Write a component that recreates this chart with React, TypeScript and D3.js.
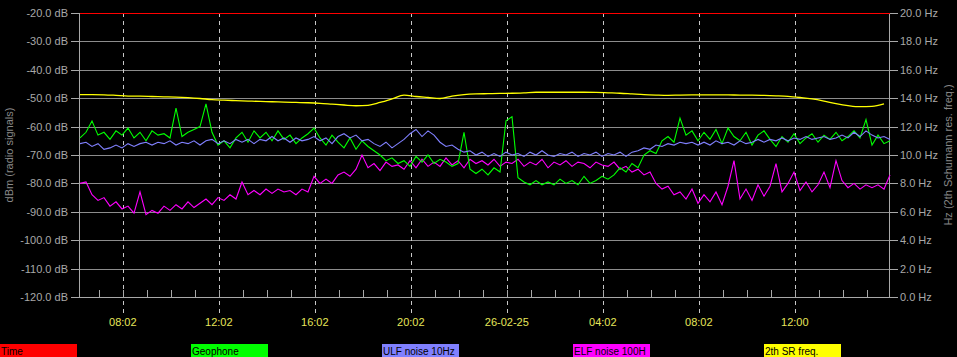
import React from "react";
import * as d3 from "d3";

const W = 957;
const H = 357;

// time axis (hours since 25-02-25 00:00)
const TIME_START = 6.25;
const TIME_END = 40.0;
const NOISE_STEP = 0.25;
const SR_STEP = 0.5;

const xTickHours = [8.033, 12.033, 16.033, 20.033, 24.033, 28.033, 32.033, 36.033];
const xTickLabels = ["08:02", "12:02", "16:02", "20:02", "26-02-25", "04:02", "08:02", "12:00"];
const minorTickHours = [7.033, 8.033, 9.033, 10.033, 11.033, 12.033, 13.033, 14.033, 15.033, 16.033, 17.033, 18.033, 19.033, 20.033, 21.033, 22.033, 23.033, 24.033, 25.033, 26.033, 27.033, 28.033, 29.033, 30.033, 31.033, 32.033, 33.033, 34.033, 35.033, 36.033, 37.033, 38.033, 39.033];

const dbTicks = [-20, -30, -40, -50, -60, -70, -80, -90, -100, -110, -120];
const hzTicks = [20, 18, 16, 14, 12, 10, 8, 6, 4, 2, 0];

const legendNames = ["Time", "Geophone", "ULF noise 10Hz", "ELF noise 100H", "2th SR freq."];
const legendColors = ["#ff0000", "#00ff00", "#8080ff", "#ff00ff", "#ffff00"];

// ULF noise 10Hz (dBm), every 15 min
const ulf = [
  -66, -65.5, -67, -66, -68, -67.5, -66.5, -67.5, -66, -67,
  -66, -65.5, -66.5, -65.5, -66, -65, -66.5, -65.5, -66, -65,
  -66.5, -65, -64.5, -66, -65, -66, -64.5, -65.5, -64.5, -66,
  -64.5, -65, -63.5, -65, -64, -65.5, -64, -65, -64.5, -63.5,
  -65, -64, -66, -63.5, -62.5, -64, -63, -65, -64.5, -66,
  -67, -65.5, -67.5, -66, -64.5, -62.5, -61, -63.5, -61.5, -63,
  -65.5, -67, -66.5, -68, -69, -68.5, -70, -69, -70.5, -69.5,
  -70.5, -69, -70, -69.5, -70.5, -69, -70, -68.5, -70, -70.5,
  -69.5, -70, -69, -70.5, -69.5, -70, -69, -70.5, -69.5, -70,
  -69, -70.5, -69, -68.5, -67.5, -68, -66.5, -67, -66, -66.5,
  -65.5, -66, -65.5, -66.5, -65.5, -66.5, -65, -66, -65.5, -66.5,
  -65, -66, -65.5, -64.5, -65.5, -64.5, -65, -64, -65, -64,
  -64.5, -63.5, -64.5, -64, -63.5, -64.5, -64, -63, -64, -62,
  -63.5, -61.5, -63, -64, -63.5, -64.5,
];

// Geophone (dBm), every 15 min
const geophone = [
  -64, -62, -58, -63, -62, -64.5, -61.5, -63, -60.5, -64,
  -62, -65, -61.5, -63, -62.5, -64, -53.5, -63.5, -62, -61,
  -60, -52, -62, -66.5, -65, -67.5, -64, -62, -65.5, -61.5,
  -64, -62, -65, -61.5, -64.5, -63, -66, -64, -62.5, -60.5,
  -64, -66.5, -63, -65.5, -67.5, -64, -68, -65, -67, -68.5,
  -70, -72, -71, -73, -72, -74, -70.5, -72.5, -70, -73,
  -71.5, -72.5, -74, -73, -62, -75, -76.5, -75, -77, -74.5,
  -76, -58, -56.5, -78, -79.5, -80.5, -79, -80.5, -79.5, -80.5,
  -78.5, -80, -79, -80.5, -77.5, -80, -79, -77.5, -78.5, -77,
  -74.5, -76, -73, -74.5, -70, -68.5, -69.5, -65, -63.5, -65.5,
  -57, -63, -61.5, -65, -62, -64.5, -61, -66, -60.5, -63.5,
  -65, -62, -66.5, -63, -61.5, -64.5, -67, -63.5, -65.5, -62.5,
  -66, -64, -62.5, -65.5, -63, -64.5, -62, -65, -63.5, -61.5,
  -64, -57.5, -66.5, -63, -66, -65,
];

// ELF noise 100Hz (dBm), every 15 min
const elf = [
  -80, -79.5, -84, -86, -85, -88, -86.5, -89, -88, -90.5,
  -83, -91, -89.5, -90.5, -88, -89.5, -87.5, -89, -86.5, -88.5,
  -87, -85.5, -87.5, -85, -86, -84, -85.5, -79.5, -84, -82.5,
  -84, -82, -83.5, -82, -83, -82.5, -84, -82, -83, -77.5,
  -80, -78.5, -80, -77, -76, -77.5, -75, -70, -74.5, -73,
  -75.5, -72.5, -74, -73.5, -75, -72, -74.5, -71.5, -74, -72.5,
  -74, -71, -73.5, -72, -74.5, -71.5, -73, -72, -73.5, -71.5,
  -74, -72.5, -73, -71.5, -74, -72.5, -73.5, -71.5, -74.5, -72.5,
  -73.5, -72, -74, -72.5, -73, -74.5, -72.5, -73.5, -74, -72.5,
  -75, -74, -76, -75, -77, -76, -80, -82, -81, -84,
  -83, -85.5, -82, -87, -84, -86.5, -83, -87.5, -81, -72,
  -85.5, -82, -86, -80.5, -84.5, -81, -73, -83, -80, -76,
  -82.5, -79.5, -83, -80.5, -76, -81.5, -72, -79, -81.5, -80,
  -82, -80.5, -81.5, -80.5, -82, -77,
];

// 2nd Schumann resonance frequency (Hz), every 30 min
const srFreq = [
  14.25, 14.25, 14.24, 14.2, 14.15, 14.14, 14.12, 14.1, 14.08, 14.04,
  13.98, 13.9, 13.86, 13.83, 13.8, 13.77, 13.75, 13.72, 13.7, 13.68,
  13.64, 13.58, 13.52, 13.47, 13.5, 13.7, 13.95, 14.22, 14.12, 14.05,
  13.98, 14.15, 14.25, 14.3, 14.32, 14.34, 14.35, 14.38, 14.42, 14.42,
  14.42, 14.42, 14.42, 14.41, 14.38, 14.35, 14.3, 14.25, 14.22, 14.2,
  14.22, 14.23, 14.23, 14.23, 14.23, 14.22, 14.22, 14.2, 14.17, 14.13,
  14.05, 13.95, 13.8, 13.62, 13.48, 13.4, 13.42, 13.6,
];

const PL = 80, PR = 890, PT = 13, PB = 297;

export default function App() {
  const x = d3.scaleLinear().domain([TIME_START, TIME_END]).range([PL, PR]);
  const yDb = d3.scaleLinear().domain([-120, -20]).range([PB, PT]);
  const yHz = d3.scaleLinear().domain([0, 20]).range([PB, PT]);

  const dbLine = (arr: number[], step: number) =>
    d3.line<number>()
      .x((_, i) => x(TIME_START + i * step))
      .y((v) => yDb(v))(arr) || "";
  const hzLine = d3.line<number>()
    .x((_, i) => x(TIME_START + i * SR_STEP))
    .y((v) => yHz(v))
    .curve(d3.curveMonotoneX)(srFreq) || "";

  const font = "'Liberation Sans', Arial, sans-serif";
  const axisGray = "#a8a8a8";
  const gridGray = "#8c8c8c";

  return (
    <svg width={W} height={H} style={{ position: "absolute", left: 0, top: 0, background: "#000" }} fontFamily={font}>
      <rect x={0} y={0} width={W} height={H} fill="#000" />
      {/* horizontal grid */}
      {dbTicks.map((t) => (
        <g key={"g" + t}>
          <line x1={PL} x2={PR} y1={Math.round(yDb(t)) + 0.5} y2={Math.round(yDb(t)) + 0.5} stroke={gridGray} strokeWidth={1} />
          <line x1={PL - 9} x2={PL} y1={Math.round(yDb(t)) + 0.5} y2={Math.round(yDb(t)) + 0.5} stroke={axisGray} />
          <text x={68} y={yDb(t) + 4} fill={axisGray} fontSize={11} textAnchor="end">{t.toFixed(1) + " dB"}</text>
        </g>
      ))}
      {hzTicks.map((t) => (
        <g key={"h" + t}>
          <line x1={PR} x2={PR + 8} y1={Math.round(yHz(t)) + 0.5} y2={Math.round(yHz(t)) + 0.5} stroke={axisGray} />
          <text x={900} y={yHz(t) + 4} fill={axisGray} fontSize={11}>{t.toFixed(1) + " Hz"}</text>
        </g>
      ))}
      {/* vertical dashed grid */}
      {xTickHours.map((h, i) => (
        <g key={"v" + i}>
          <line x1={Math.round(x(h)) + 0.5} x2={Math.round(x(h)) + 0.5} y1={PT} y2={313} stroke="#c8c8c8" strokeDasharray="4,4" />
          <text x={x(h)} y={326} fill="#e6e65a" fontSize={11} textAnchor="middle">{xTickLabels[i]}</text>
        </g>
      ))}
      {minorTickHours.map((h, i) => (
        <line key={"m" + i} x1={Math.round(x(h)) + 0.5} x2={Math.round(x(h)) + 0.5} y1={PB - 7} y2={PB} stroke={axisGray} />
      ))}
      {/* axes */}
      <line x1={PL - 0.5} x2={PL - 0.5} y1={PT} y2={PB} stroke={axisGray} />
      <line x1={PR - 0.5} x2={PR - 0.5} y1={PT} y2={PB} stroke={axisGray} />
      <line x1={PL} x2={PR} y1={PB + 0.5} y2={PB + 0.5} stroke={axisGray} />
      {/* series */}
      <path d={hzLine} fill="none" stroke="#ffff00" strokeWidth={1.3} />
      <path d={dbLine(elf, NOISE_STEP)} fill="none" stroke="#ff00ff" strokeWidth={1.1} />
      <path d={dbLine(geophone, NOISE_STEP)} fill="none" stroke="#00ff00" strokeWidth={1.1} />
      <path d={dbLine(ulf, NOISE_STEP)} fill="none" stroke="#8080ff" strokeWidth={1.1} />
      <line x1={PL} x2={PR} y1={Math.round(yDb(-20)) + 0.5} y2={Math.round(yDb(-20)) + 0.5} stroke="#ff0000" strokeWidth={1} />
      {/* axis titles */}
      <text transform={`translate(13,155) rotate(-90)`} fill="#888" fontSize={11} textAnchor="middle">dBm (radio signals)</text>
      <text transform={`translate(952,155) rotate(-90)`} fill="#888" fontSize={11} textAnchor="middle">Hz (2th Schumann res. freq.)</text>
      {/* legend */}
      {legendNames.map((n, i) => (
        <g key={"l" + i}>
          <rect x={i * 191} y={344} width={77} height={13} fill={legendColors[i]} />
          <text x={i * 191 + 1} y={355} fill="#000" fontSize={10}>{n}</text>
        </g>
      ))}
    </svg>
  );
}
